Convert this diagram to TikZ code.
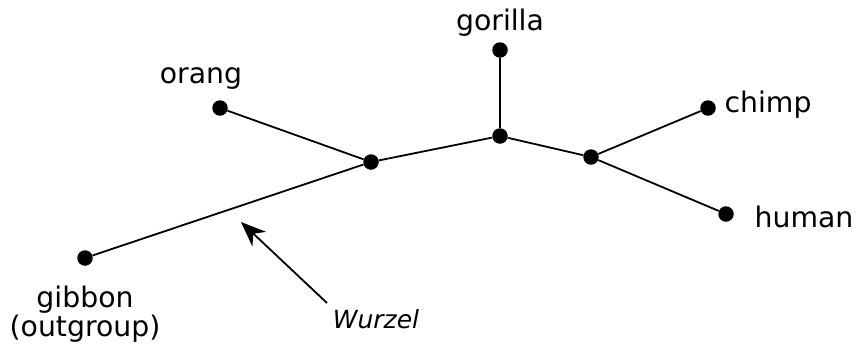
\documentclass[tikz,border=0pt]{standalone}
\usepackage{fontspec}
\setmainfont{DejaVu Sans}
\usetikzlibrary{arrows.meta}
\begin{document}
\begin{tikzpicture}[x=1pt,y=-1pt,
  dot/.style={circle,fill=black,inner sep=0pt,minimum size=15.5pt},
  edge/.style={line width=1.8pt},
  lbl/.style={inner sep=0pt,anchor=base,font=\fontsize{28.3}{27}\selectfont},
  ptr/.style={line width=1.8pt,-{Stealth[length=25pt,width=20pt,inset=8pt]}}]
\useasboundingbox (0,0) rectangle (860,349);
\node[dot] (gibbon) at (85,258) {};
\node[dot] (orang) at (220,108) {};
\node[dot] (n1) at (371,162) {};
\node[dot] (n2) at (500,136) {};
\node[dot] (gorilla) at (500,50) {};
\node[dot] (n3) at (591,157) {};
\node[dot] (chimp) at (708,108) {};
\node[dot] (human) at (726,214) {};
\draw[edge] (gibbon) -- (n1);
\draw[edge] (orang) -- (n1);
\draw[edge] (n1) -- (n2);
\draw[edge] (gorilla) -- (n2);
\draw[edge] (n2) -- (n3);
\draw[edge] (n3) -- (chimp);
\draw[edge] (n3) -- (human);
\node[lbl] (tgorilla) at (500,30) {gorilla};
\node[lbl] (torang) at (201,83) {orang};
\node[lbl] (tchimp) at (768,112) {chimp};
\node[lbl] (thuman) at (804,227) {human};
\node[lbl,align=center] (tgibbon) at (85,336) {gibbon\\(outgroup)};
\node[lbl,font=\fontsize{25}{26}\selectfont\itshape] (twurzel) at (376,328) {Wurzel};
\coordinate (wstart) at (327,303);
\coordinate (wtip) at (241,222);
\draw[ptr] (wstart) -- (wtip);
\end{tikzpicture}
\end{document}
